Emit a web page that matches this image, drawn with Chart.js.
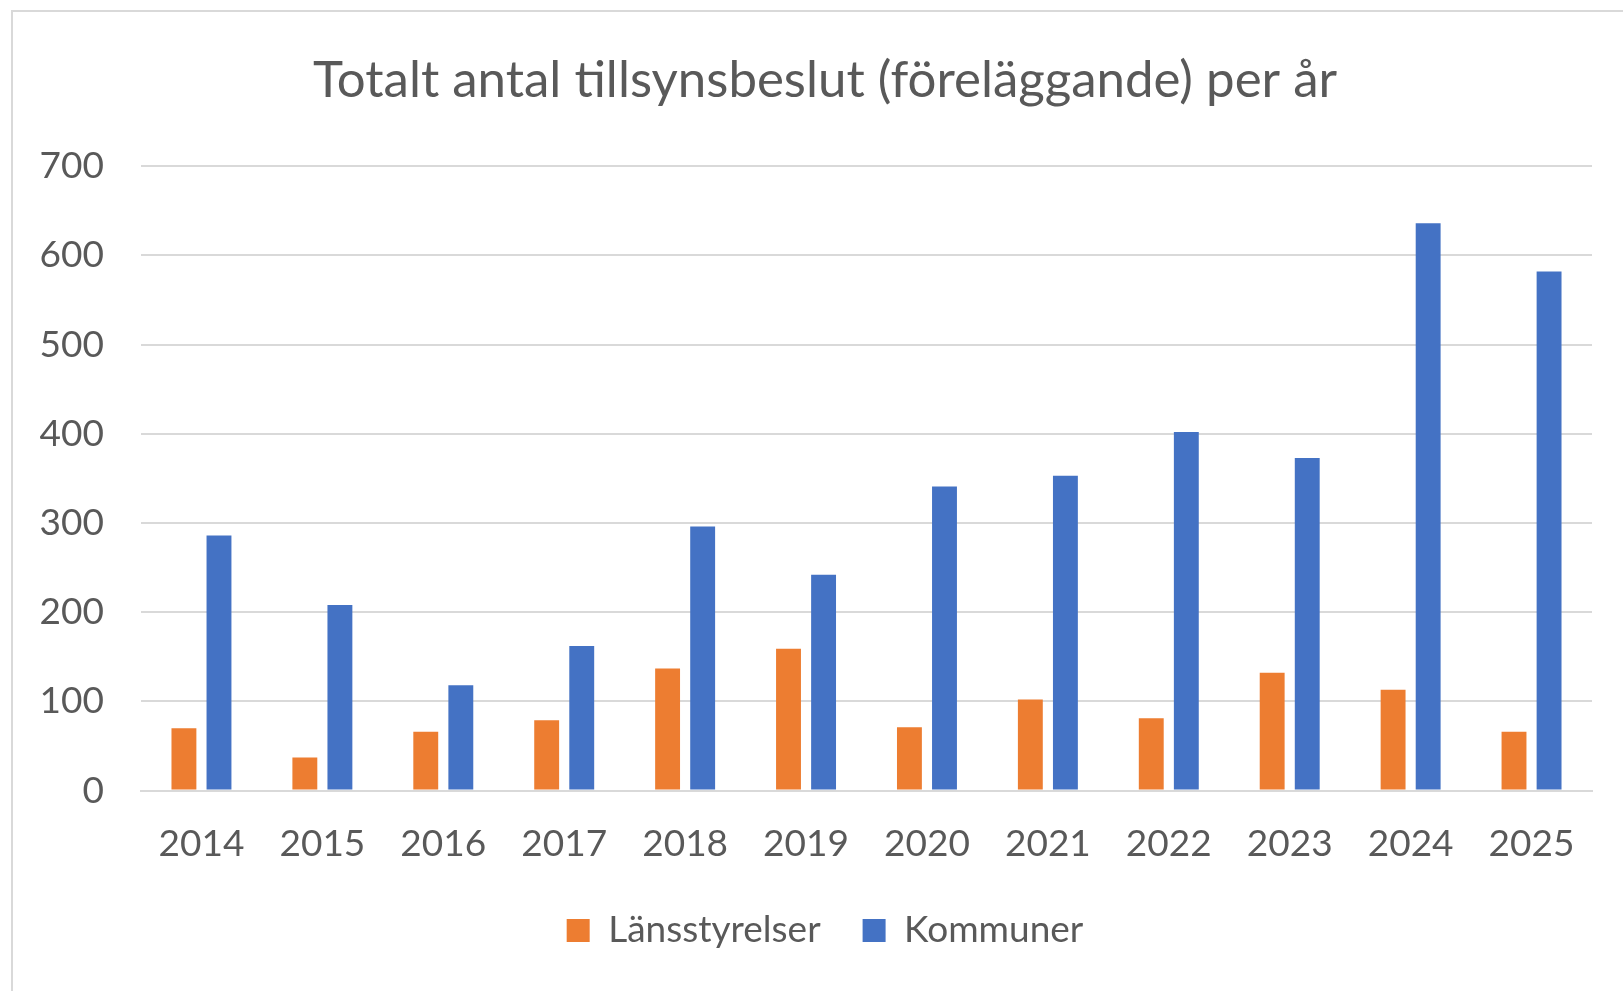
<!DOCTYPE html>
<html>
<head>
<meta charset="utf-8">
<script src="https://cdn.jsdelivr.net/npm/chart.js@4.4.1/dist/chart.umd.min.js"></script>
<style>
  html, body { margin: 0; padding: 0; background: #fff; }
  #wrap { position: absolute; left: 0; top: 0; width: 1623px; height: 991px; }
  #frame { position: absolute; left: 11px; top: 10px; width: 1700px; height: 1100px;
           border-left: 2px solid #d9d9d9; border-top: 2px solid #d9d9d9; }
</style>
</head>
<body>
<div id="frame"></div>
<div id="wrap"><canvas id="chart"></canvas></div>
<script>
const years = ["2014","2015","2016","2017","2018","2019","2020","2021","2022","2023","2024","2025"];
const lansstyrelser = [70, 37, 66, 79, 137, 159, 71, 102, 81, 132, 113, 66];
const kommuner = [286, 208, 118, 162, 296, 242, 341, 353, 402, 373, 636, 582];
const yTicks = [0, 100, 200, 300, 400, 500, 600, 700];

const textColor = "#595959";
const fontFam = "Lato, 'Open Sans', sans-serif";

new Chart(document.getElementById("chart"), {
  type: "bar",
  data: {
    labels: years,
    datasets: [
      { label: "Länsstyrelser", data: lansstyrelser, backgroundColor: "#ED7D31",
        categoryPercentage: 0.58, barPercentage: 0.71 },
      { label: "Kommuner", data: kommuner, backgroundColor: "#4472C4",
        categoryPercentage: 0.58, barPercentage: 0.71 }
    ]
  },
  options: {
    responsive: true,
    maintainAspectRatio: false,
    animation: false,
    layout: { padding: { left: 40, right: 13, top: 0, bottom: 32 } },
    plugins: {
      title: {
        display: true,
        text: "Totalt antal tillsynsbeslut (föreläggande) per år",
        color: textColor,
        font: { family: fontFam, size: 51, weight: "normal" },
        padding: { top: 50, bottom: 55 }
      },
      legend: {
        position: "bottom",
        labels: {
          color: textColor,
          font: { family: fontFam, size: 37 },
          boxWidth: 23, boxHeight: 23,
          padding: 42
        }
      },
      tooltip: { enabled: false }
    },
    scales: {
      x: {
        afterFit: s => { s.height -= 27; },
        grid: { display: false, drawTicks: false },
        border: { color: "#d9d9d9", width: 2 },
        ticks: { color: textColor, font: { family: fontFam, size: 37 }, padding: 31 }
      },
      y: {
        min: 0, max: 700,
        afterFit: s => { s.width = 101; },
        afterBuildTicks: s => { s.ticks = yTicks.map(v => ({ value: v })); },
        grid: { color: "#d9d9d9", lineWidth: 2, drawTicks: false },
        border: { display: false },
        ticks: { color: textColor, font: { family: fontFam, size: 37 }, padding: 37 }
      },
      // empty spacer on the right so the title sits where it does in the original
      yRight: {
        position: "right",
        min: 0, max: 700,
        afterFit: s => { s.width = 18; },
        grid: { display: false, drawTicks: false },
        border: { display: false },
        ticks: { display: false }
      }
    }
  }
});
</script>
</body>
</html>
